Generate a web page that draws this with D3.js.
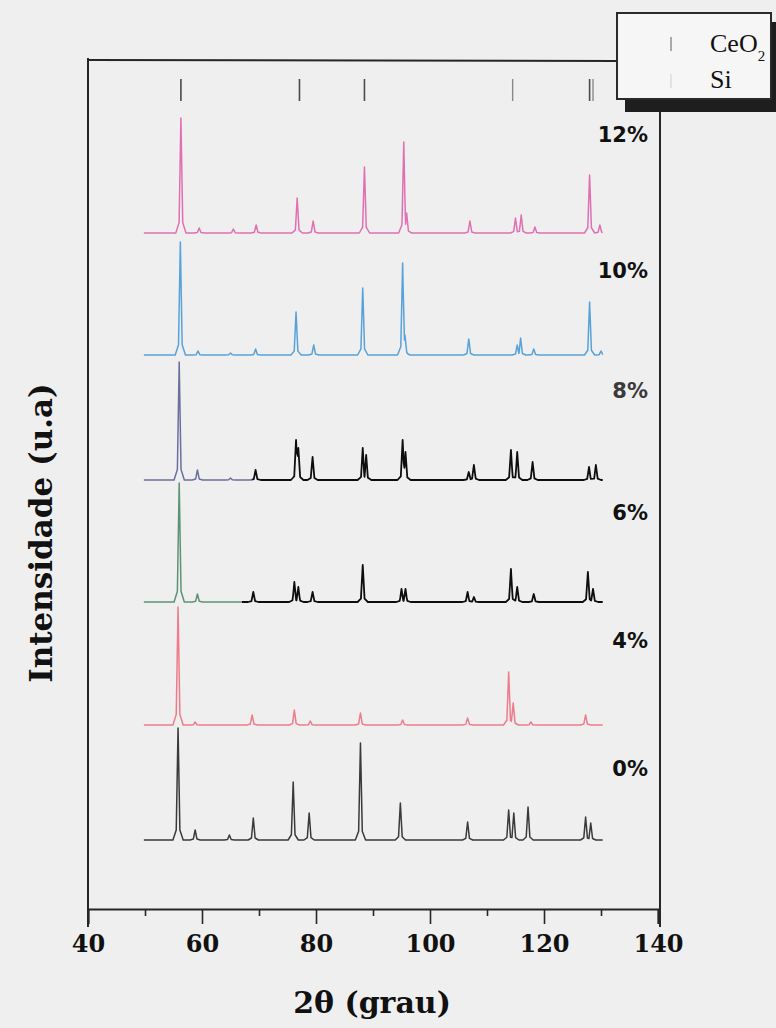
<!DOCTYPE html>
<html>
<head>
<meta charset="utf-8">
<script src="https://cdn.jsdelivr.net/npm/d3@7"></script>
<style>
  body { margin: 0; background: #efefef; }
  svg { display: block; }
</style>
</head>
<body>
<div id="chart"></div>
<script>
var width = 776, height = 1028;

// sample labels, bottom to top
var samples = ["0%", "4%", "6%", "8%", "10%", "12%"];
// vertical offset of each pattern (a.u.)
var offsets = [0, 115, 238, 360, 485, 607];
// level (a.u. above its own baseline) where the sample label sits
var labelLevels = [64, 77, 82, 82, 77, 91];

// peaks: [2theta, intensity]
var peaks0 = [[55.8,112],[58.8,10],[64.8,5],[69.0,22],[76.0,58],[78.8,27],[87.8,97],[94.8,37],
  [106.6,18],[113.8,30],[114.7,27],[117.2,33],[127.3,23],[128.2,17]];
var peaks4 = [[55.8,118],[58.8,3],[68.8,10],[76.2,15],[79.0,4],[87.8,12],[95.2,5],[106.6,7],
  [113.8,53],[114.6,22],[117.7,3],[127.3,10]];
var peaks6 = [[56.0,119],[59.2,8],[69.0,10],[76.2,20],[76.9,15],[79.4,10],[88.2,37],[95.0,13],
  [95.7,13],[106.6,10],[107.7,5],[114.2,33],[115.3,15],[118.2,8],[127.7,30],[128.6,13]];
var peaks8 = [[56.0,118],[59.2,10],[65.0,2],[69.4,10],[76.5,40],[76.9,32],[79.4,23],[88.2,32],
  [88.8,25],[95.2,40],[95.7,28],[106.8,8],[107.7,15],[114.2,30],[115.3,28],[118.0,18],[127.9,13],[129.1,15]];
var peaks10 = [[56.2,113],[59.3,4],[65.0,2],[69.4,6],[76.5,43],[79.6,10],[88.2,67],[95.2,92],
  [95.6,20],[106.8,16],[115.3,10],[115.9,17],[118.2,6],[128.0,53],[130.0,4]];
var peaks12 = [[56.3,115],[59.5,5],[65.5,4],[69.5,8],[76.7,35],[79.5,12],[88.5,66],[95.4,91],
  [95.9,20],[107.0,12],[115.0,15],[116.0,18],[118.4,6],[128.0,58],[129.8,8]];
var allPeaks = [peaks0, peaks4, peaks6, peaks8, peaks10, peaks12];

// scanned range of every pattern
var scanRange = [49.8, 130.3];
// where the 6% and 8% patterns switch from the tinted part to black
var splitAt = [null, null, 67.0, 68.7, null, null];

var headColors = ["#3a3a3a", "#ee7c8b", "#5e9276", "#6c6f9c", "#58a2da", "#e070b2"];
var tailColors = ["#3a3a3a", "#ee7c8b", "#0d0d0d", "#0d0d0d", "#58a2da", "#e070b2"];

// reference marks at the top
var ceo2Marks = [56.3, 77.1, 88.5, 128.0];
var siMarks = [114.5, 128.6];

var xTicksMajor = [40, 60, 80, 100, 120, 140];
var xTicksMinor = [50, 70, 90, 110, 130];

var svg = d3.select("#chart").append("svg").attr("width", width).attr("height", height);

var x = d3.scaleLinear().domain([40, 140]).range([88, 658]);
var y = d3.scaleLinear().domain([-69, 780]).range([909, 60]);

// peak shape: sharp tip plus a small skirt
function profile(pk, t) {
  var tip = Math.max(0, 1 - Math.abs(t - pk[0]) / 0.32) * pk[1];
  var skirt = Math.max(0, 1 - Math.abs(t - pk[0]) / 0.9) * pk[1] * 0.14;
  return Math.max(tip, skirt);
}

function tracePoints(pks) {
  var xs = [scanRange[0], scanRange[1]];
  pks.forEach(function(p) { xs.push(p[0] - 0.9, p[0] - 0.32, p[0], p[0] + 0.32, p[0] + 0.9); });
  xs = xs.filter(function(t) { return t >= scanRange[0] && t <= scanRange[1]; }).sort(d3.ascending);
  return xs.map(function(t) {
    return [t, d3.max(pks, function(p) { return profile(p, t); })];
  });
}

// frame
var frame = svg.append("g").attr("stroke", "#262626").attr("fill", "none");
frame.append("line").attr("x1", x(40)).attr("x2", x(40)).attr("y1", 58).attr("y2", 927).attr("stroke-width", 2);
frame.append("line").attr("x1", x(140) + 2).attr("x2", x(140) + 2).attr("y1", 100).attr("y2", 927).attr("stroke-width", 2);
frame.append("line").attr("x1", x(40)).attr("x2", 618).attr("y1", 60).attr("y2", 61).attr("stroke-width", 2);

// top reference marks
svg.selectAll(".ceo2mark").data(ceo2Marks).enter().append("line")
    .attr("x1", function(d) { return x(d); }).attr("x2", function(d) { return x(d); })
    .attr("y1", 79).attr("y2", 101)
    .attr("stroke", "#4a4a4a").attr("stroke-width", 1.6);
svg.selectAll(".simark").data(siMarks).enter().append("line")
    .attr("x1", function(d) { return x(d); }).attr("x2", function(d) { return x(d); })
    .attr("y1", 79).attr("y2", 101)
    .attr("stroke", "#8a8a8a").attr("stroke-width", 1.4);

// patterns
var line = d3.line()
    .x(function(d) { return x(d[0]); })
    .y(function(d) { return y(d[1]); });

var defs = svg.append("defs");

allPeaks.forEach(function(pks, i) {
  var pts = tracePoints(pks).map(function(d) { return [d[0], d[1] + offsets[i]]; });
  var g = svg.append("g").attr("fill", "none").attr("stroke-linejoin", "round");
  if (splitAt[i] == null) {
    g.append("path").attr("d", line(pts))
        .attr("stroke", headColors[i]).attr("stroke-width", 1.5);
  } else {
    var s = x(splitAt[i]);
    defs.append("clipPath").attr("id", "head" + i).append("rect")
        .attr("x", 0).attr("y", 0).attr("width", s).attr("height", height);
    defs.append("clipPath").attr("id", "tail" + i).append("rect")
        .attr("x", s).attr("y", 0).attr("width", width - s).attr("height", height);
    g.append("path").attr("d", line(pts)).attr("clip-path", "url(#head" + i + ")")
        .attr("stroke", headColors[i]).attr("stroke-width", 1.5);
    g.append("path").attr("d", line(pts)).attr("clip-path", "url(#tail" + i + ")")
        .attr("stroke", tailColors[i]).attr("stroke-width", 1.8);
  }
});

// sample labels
svg.selectAll(".sample").data(samples).enter().append("text")
    .attr("x", 648)
    .attr("y", function(d, i) { return y(offsets[i] + labelLevels[i]); })
    .attr("text-anchor", "end")
    .style("font-family", "'DejaVu Sans', sans-serif")
    .style("font-weight", "bold")
    .style("font-size", "21px")
    .attr("fill", function(d) { return d === "8%" ? "#3a3a3a" : "#111"; })
    .text(function(d) { return d; });

// x axis
var axisG = svg.append("g").attr("transform", "translate(0," + y(-69) + ")");
axisG.append("g").call(d3.axisBottom(x).tickValues(xTicksMinor).tickSize(7).tickFormat(""))
    .call(function(g) { g.select(".domain").remove(); });
axisG.append("g").call(d3.axisBottom(x).tickValues(xTicksMajor).tickSize(15).tickPadding(11).tickFormat(d3.format("d")))
    .call(function(g) {
      g.select(".domain").attr("stroke-width", 2);
      g.selectAll("text")
        .style("font-family", "'DejaVu Serif', serif")
        .style("font-weight", "bold")
        .style("font-size", "24px")
        .attr("fill", "#111");
    });
axisG.selectAll("line").attr("stroke", "#262626").attr("stroke-width", 1.6);
axisG.selectAll(".domain").attr("stroke", "#262626");

svg.append("text")
    .attr("x", 372).attr("y", 1013)
    .attr("text-anchor", "middle")
    .style("font-family", "'DejaVu Serif', serif")
    .style("font-weight", "bold")
    .style("font-size", "30px")
    .attr("fill", "#111")
    .text("2θ (grau)");

svg.append("text")
    .attr("transform", "translate(52,533) rotate(-90)")
    .attr("text-anchor", "middle")
    .style("font-family", "'DejaVu Serif', serif")
    .style("font-weight", "bold")
    .style("font-size", "31px")
    .attr("fill", "#111")
    .text("Intensidade (u.a)");

// legend
var legend = svg.append("g");
legend.append("rect").attr("x", 625).attr("y", 22).attr("width", 160).attr("height", 90).attr("fill", "#1e1e1e");
legend.append("rect").attr("x", 617).attr("y", 13).attr("width", 154).attr("height", 86)
    .attr("fill", "#f6f6f6").attr("stroke", "#2a2a2a").attr("stroke-width", 2);
legend.append("line").attr("x1", 671).attr("x2", 671).attr("y1", 37).attr("y2", 51)
    .attr("stroke", "#8a8a8a").attr("stroke-width", 1.4);
legend.append("line").attr("x1", 671).attr("x2", 671).attr("y1", 74).attr("y2", 88)
    .attr("stroke", "#dcdcdc").attr("stroke-width", 1.4);
var ceoText = legend.append("text").attr("x", 710).attr("y", 52)
    .style("font-family", "'Liberation Serif', serif").style("font-size", "26px").attr("fill", "#111");
ceoText.append("tspan").text("CeO");
ceoText.append("tspan").attr("dy", 9).style("font-size", "15px").text("2");
legend.append("text").attr("x", 710).attr("y", 88)
    .style("font-family", "'Liberation Serif', serif").style("font-size", "26px").attr("fill", "#111")
    .text("Si");
</script>
</body>
</html>
